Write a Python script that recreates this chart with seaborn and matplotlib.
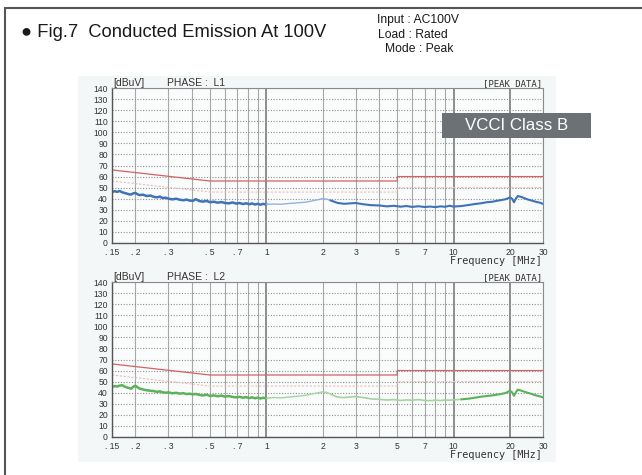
import matplotlib
matplotlib.use("Agg")
import matplotlib.pyplot as plt
import seaborn as sns
from matplotlib.patches import Rectangle
from matplotlib.lines import Line2D
from matplotlib.ticker import NullFormatter

# ---------------- data ----------------
freq_lo = [0.150, 0.155, 0.160, 0.165, 0.170, 0.175, 0.180, 0.185, 0.190, 0.195,
           0.200, 0.205, 0.210, 0.220, 0.230, 0.240, 0.250, 0.260, 0.270, 0.280,
           0.290, 0.300, 0.315, 0.330, 0.345, 0.360, 0.375, 0.390, 0.405, 0.420,
           0.440, 0.460, 0.480, 0.500, 0.525, 0.550, 0.575, 0.600, 0.630, 0.660,
           0.690, 0.720, 0.750, 0.780, 0.810, 0.840, 0.870, 0.900, 0.930, 0.960, 1.000]
freq_mid = [1.0, 1.1, 1.2, 1.3, 1.4, 1.5, 1.6, 1.7, 1.8, 1.9, 2.0, 2.1, 2.2]
freq_hi = [2.2, 2.4, 2.6, 2.8, 3.0, 3.3, 3.6, 4.0, 4.4, 4.8, 5.2, 5.6, 6.0, 6.5, 7.0,
           7.5, 8.0, 8.5, 9.0, 9.5, 10, 11, 12, 13, 14, 15, 16, 17, 18, 19, 20, 20.5,
           21, 21.5, 22, 23, 24, 25, 26, 27, 28, 29, 30]

l1_lo = [46.0, 46.8, 46.2, 47.0, 45.8, 45.2, 44.6, 44.0, 43.8, 44.9,
         45.2, 44.1, 43.3, 43.6, 42.4, 42.9, 41.8, 41.2, 41.9, 40.6,
         40.9, 40.1, 39.4, 40.0, 39.1, 38.6, 39.2, 38.3, 38.0, 39.6,
         37.8, 37.4, 38.0, 36.9, 37.3, 36.4, 37.0, 36.2, 35.8, 36.6,
         35.6, 36.1, 35.2, 35.9, 35.0, 35.7, 34.8, 35.4, 34.6, 35.3, 34.9]
l1_mid = [34.9, 35.2, 35.0, 35.6, 36.0, 36.4, 36.8, 37.5, 38.4, 39.2, 40.1, 39.6, 38.5]
l1_hi = [38.5, 36.2, 35.4, 35.8, 36.1, 35.0, 34.2, 33.9, 33.1, 33.6, 32.8, 33.4, 32.6,
         33.2, 32.5, 32.9, 32.4, 33.1, 32.7, 33.6, 32.9, 33.4, 34.3, 35.2, 35.9, 36.8,
         37.2, 38.1, 38.8, 39.6, 41.2, 40.0, 36.8, 40.2, 42.4, 41.6, 40.3, 39.2, 38.4,
         37.6, 36.9, 36.4, 35.2]

l2_lo = [45.2, 46.0, 45.6, 46.4, 46.8, 45.5, 44.8, 44.2, 43.6, 45.4,
         46.3, 45.0, 43.8, 42.9, 42.2, 41.8, 41.5, 40.8, 41.2, 40.4,
         40.0, 40.3, 39.5, 39.9, 39.2, 39.6, 38.8, 39.1, 38.5, 38.9,
         38.0, 37.5, 38.2, 37.1, 37.6, 36.8, 37.4, 36.5, 37.0, 36.2,
         35.8, 36.3, 35.5, 36.0, 35.2, 35.8, 35.0, 35.6, 34.8, 35.4, 35.0]
l2_mid = [35.0, 35.6, 35.3, 36.0, 36.5, 37.0, 37.6, 38.4, 39.2, 40.0, 40.8, 40.2, 38.8]
l2_hi = [38.8, 36.0, 35.6, 36.2, 36.5, 35.6, 34.5, 34.0, 33.4, 33.8, 33.0, 33.5, 33.2,
         33.8, 33.0, 32.8, 33.3, 32.9, 33.5, 33.2, 33.6, 34.0, 34.6, 35.5, 36.4, 37.0,
         37.5, 38.2, 38.9, 39.8, 41.8, 40.4, 37.2, 40.4, 42.8, 41.8, 40.8, 39.8, 39.0,
         38.0, 37.2, 36.6, 35.8]

limit_freq = [0.15, 0.5, 5, 5, 30]
qp_limit = [66, 56, 56, 60, 60]
av_limit = [56, 46, 46, 50, 50]

xtick_vals = [0.15, 0.2, 0.3, 0.5, 0.7, 1, 2, 3, 5, 7, 10, 20, 30]
xtick_labels = [". 15", ". 2", ". 3", ". 5", ". 7", "1", "2", "3", "5", "7", "10", "20", "30"]
xgrid_minor = [0.4, 0.6, 0.8, 0.9, 4, 6, 8, 9]
yticks = list(range(0, 141, 10))

# ---------------- style ----------------
sns.set_style("white")
plt.rcParams['font.family'] = ['Liberation Sans', 'DejaVu Sans']

W, H = 642, 475
fig = plt.figure(figsize=(W / 100, H / 100), dpi=100)


def fx(px):
    return px / W


def fy(py):
    return 1 - py / H


# outer frame (left and top edges visible)
fig.add_artist(Line2D([fx(5), fx(5)], [fy(7.5), 0], transform=fig.transFigure,
                      color='#555555', lw=1.5))
fig.add_artist(Line2D([fx(5), 1], [fy(7.5), fy(7.5)], transform=fig.transFigure,
                      color='#555555', lw=1.5))

# scanned chart background
fig.add_artist(Rectangle((fx(78), fy(462)), fx(556) - fx(78), fy(76) - fy(462),
                         transform=fig.transFigure, facecolor='#f4f7f8',
                         edgecolor='none', zorder=0))

# title and conditions
fig.text(fx(21), fy(37), "\u25CF Fig.7  Conducted Emission At 100V", fontsize=13.2,
         color='#1a1a1a', ha='left', va='baseline')
fig.text(fx(377), fy(22.5), "Input : AC100V", fontsize=8.7, color='#1a1a1a',
         ha='left', va='baseline')
fig.text(fx(378), fy(38.5), "Load : Rated", fontsize=8.7, color='#1a1a1a',
         ha='left', va='baseline')
fig.text(fx(385), fy(52), "Mode : Peak", fontsize=8.7, color='#1a1a1a',
         ha='left', va='baseline')

panels = [
    dict(top=88, bottom=243, phase="PHASE :  L1", lo=l1_lo, mid=l1_mid, hi=l1_hi,
         dark='#3f72b8', light='#93b3dc', light_until=2.2),
    dict(top=282, bottom=437, phase="PHASE :  L2", lo=l2_lo, mid=l2_mid, hi=l2_hi,
         dark='#5bb25b', light='#a3d49e', light_until=11),
]

mono = ['DejaVu Sans Mono']
for p in panels:
    ax = fig.add_axes([fx(112), fy(p['bottom']), fx(543) - fx(112),
                       fy(p['top']) - fy(p['bottom'])])
    ax.set_xscale('log')
    ax.set_facecolor('#fafbfb')

    # limit lines
    sns.lineplot(x=limit_freq, y=av_limit, ax=ax, color='#ebbcbc', lw=0.8,
                 linestyle=(0, (2, 1.5)), estimator=None, sort=False)
    sns.lineplot(x=limit_freq, y=qp_limit, ax=ax, color='#d36266', lw=0.9,
                 estimator=None, sort=False)

    # measured traces
    sns.lineplot(x=freq_lo, y=p['lo'], ax=ax, color=p['dark'], lw=1.8,
                 estimator=None, sort=False)
    sns.lineplot(x=freq_mid, y=p['mid'], ax=ax, color=p['light'], lw=1.0,
                 estimator=None, sort=False)
    hi_f = [f for f in freq_hi if f <= p['light_until']]
    hi_v = [v for f, v in zip(freq_hi, p['hi']) if f <= p['light_until']]
    hi_f2 = [f for f in freq_hi if f >= p['light_until']]
    hi_v2 = [v for f, v in zip(freq_hi, p['hi']) if f >= p['light_until']]
    if len(hi_f) > 1:
        sns.lineplot(x=hi_f, y=hi_v, ax=ax, color=p['light'], lw=1.2,
                     estimator=None, sort=False)
    sns.lineplot(x=hi_f2, y=hi_v2, ax=ax, color=p['dark'], lw=1.5,
                 estimator=None, sort=False)

    ax.set_xlim(0.15, 30)
    ax.set_ylim(0, 140)
    ax.set_xticks(xtick_vals)
    ax.set_xticklabels(xtick_labels)
    ax.set_xticks(xgrid_minor, minor=True)
    ax.xaxis.set_minor_formatter(NullFormatter())
    ax.set_yticks(yticks)
    ax.set_xlabel("")
    ax.set_ylabel("")
    ax.tick_params(axis='both', which='both', length=0, labelsize=6.2, colors='#333333')
    ax.tick_params(axis='x', pad=3.5)
    ax.tick_params(axis='y', pad=3)
    ax.xaxis.grid(True, which='both', color='#a8a8a8', lw=0.8, ls='-')
    ax.yaxis.grid(True, which='major', color='#909090', lw=0.8, ls=(0, (1, 1.5)))
    ax.set_axisbelow(True)
    for t in ax.xaxis.get_major_ticks():
        if t.get_loc() in (1, 10, 20):
            t.gridline.set_color('#707070')
            t.gridline.set_linewidth(1.1)
    for s in ['left', 'bottom']:
        ax.spines[s].set_color('#555555')
        ax.spines[s].set_linewidth(1.0)
    for s in ['top', 'right']:
        ax.spines[s].set_color('#8a8a8a')
        ax.spines[s].set_linewidth(0.8)
    ax.spines['right'].set_visible(True)
    ax.spines['top'].set_visible(True)

    # header / footer texts of the panel
    fig.text(fx(113), fy(p['top'] - 2), "[dBuV]", fontsize=7.5, color='#333333',
             ha='left', va='baseline')
    fig.text(fx(167), fy(p['top'] - 2), p['phase'], fontsize=7.5, color='#333333',
             ha='left', va='baseline')
    fig.text(fx(542), fy(p['top'] - 2), "[PEAK DATA]", fontsize=6.5, color='#333333',
             ha='right', va='baseline', family=mono)
    fig.text(fx(542), fy(p['bottom'] + 21), "Frequency [MHz]", fontsize=7.3,
             color='#333333', ha='right', va='baseline', family=mono)

# VCCI label box
fig.add_artist(Rectangle((fx(442), fy(138)), fx(591) - fx(442), fy(113) - fy(138),
                         transform=fig.transFigure, facecolor='#6b7174',
                         edgecolor='none', zorder=5))
vt = fig.text(fx(516.5), fy(125.5), "VCCI Class B", fontsize=12.2, color='white',
              ha='center', va='center')
vt.set_zorder(6)

fig.savefig("out.png", dpi=100)
